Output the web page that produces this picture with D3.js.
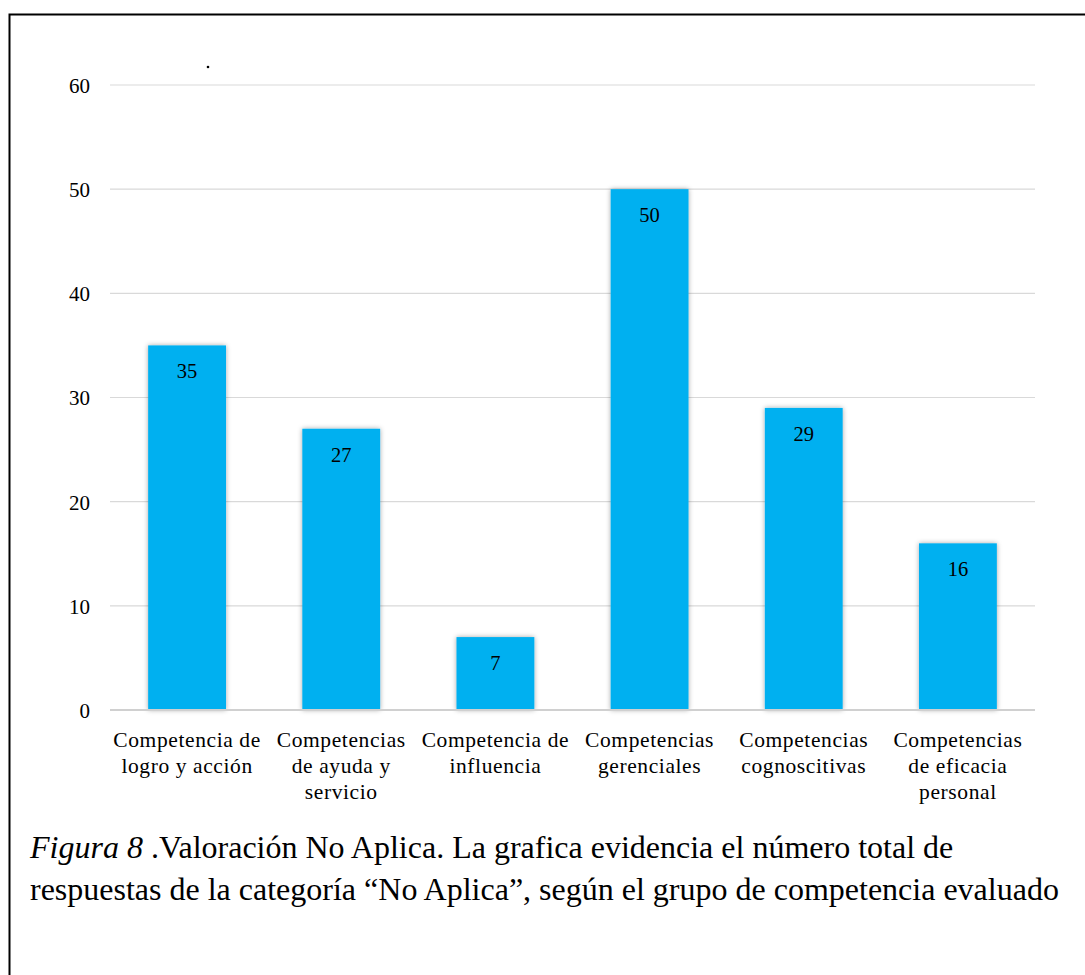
<!DOCTYPE html>
<html>
<head>
<meta charset="utf-8">
<script src="https://cdn.jsdelivr.net/npm/d3@7"></script>
<style>
  body { margin: 0; background: #fff; }
</style>
</head>
<body>
<div id="chart"></div>
<script>
const width = 1085;
const height = 975;
const margin = { top: 85, right: 50, bottom: 265, left: 110 };
const serif = "'Liberation Serif', 'Times New Roman', Times, serif";

// datos
const categories = [
  ["Competencia de", "logro y acción"],
  ["Competencias", "de ayuda y", "servicio"],
  ["Competencia de", "influencia"],
  ["Competencias", "gerenciales"],
  ["Competencias", "cognoscitivas"],
  ["Competencias", "de eficacia", "personal"]
];
const values = [35, 27, 7, 50, 29, 16];
const yTicks = [0, 10, 20, 30, 40, 50, 60];
const caption1 = "Valoración No Aplica. La grafica evidencia el número total de";
const caption2 = "respuestas de la categoría “No Aplica”, según el grupo de competencia evaluado";

const svg = d3.select("#chart")
  .append("svg")
  .attr("width", width)
  .attr("height", height);

// marco
svg.append("rect")
  .attr("x", 9.5).attr("y", 14.5)
  .attr("width", width + 20).attr("height", height + 20)
  .attr("fill", "none")
  .attr("stroke", "#000")
  .attr("stroke-width", 2);

const innerW = width - margin.left - margin.right;
const innerH = 710 - margin.top;

const x = d3.scaleBand()
  .domain(d3.range(values.length))
  .range([0, innerW])
  .paddingInner(0.495)
  .paddingOuter(0.2475);

const y = d3.scaleLinear()
  .domain([0, 60])
  .range([innerH, 0]);

const g = svg.append("g")
  .attr("transform", "translate(" + margin.left + "," + margin.top + ")");

// sombra
const defs = svg.append("defs");
const f = defs.append("filter").attr("id", "sh")
  .attr("x", "-20%").attr("y", "-10%").attr("width", "140%").attr("height", "120%");
f.append("feDropShadow")
  .attr("dx", 0).attr("dy", 0).attr("stdDeviation", 2.5)
  .attr("flood-color", "#000").attr("flood-opacity", 0.35);

// lineas de la grilla
g.selectAll(".grid")
  .data(yTicks.filter(d => d > 0))
  .enter()
  .append("line")
  .attr("x1", 0).attr("x2", innerW)
  .attr("y1", d => y(d)).attr("y2", d => y(d))
  .attr("stroke", "#d9d9d9")
  .attr("stroke-width", 1.2);

// eje Y
const yAxis = g.append("g")
  .call(d3.axisLeft(y).tickValues(yTicks).tickSize(0).tickPadding(20))
  .attr("font-family", serif)
  .attr("font-size", 21);
yAxis.select(".domain").remove();
yAxis.selectAll("text")
  .attr("fill", "#000")
  .attr("dy", "0.35em");

// barras
g.selectAll(".bar")
  .data(values)
  .enter()
  .append("rect")
  .attr("x", (d, i) => x(i))
  .attr("y", d => y(d))
  .attr("width", x.bandwidth())
  .attr("height", d => innerH - y(d))
  .attr("fill", "#00b0f0")
  .attr("filter", "url(#sh)");

// eje X base
g.append("line")
  .attr("x1", 0).attr("x2", innerW)
  .attr("y1", innerH).attr("y2", innerH)
  .attr("stroke", "#d0d0d0")
  .attr("stroke-width", 2);

// etiquetas de valor
g.selectAll(".val")
  .data(values)
  .enter()
  .append("text")
  .attr("x", (d, i) => x(i) + x.bandwidth() / 2)
  .attr("y", d => y(d) + 33)
  .attr("text-anchor", "middle")
  .attr("font-family", serif)
  .attr("font-size", 20.5)
  .attr("fill", "#000")
  .text(d => d);

// etiquetas de categoria
const cat = g.selectAll(".cat")
  .data(categories)
  .enter()
  .append("text")
  .attr("text-anchor", "middle")
  .attr("font-family", serif)
  .attr("font-size", 21.5)
  .attr("letter-spacing", 0.6)
  .attr("fill", "#000");
cat.each(function (lines, i) {
  d3.select(this).selectAll("tspan")
    .data(lines)
    .enter()
    .append("tspan")
    .attr("x", x(i) + x.bandwidth() / 2)
    .attr("y", (d, j) => innerH + 37 + j * 26)
    .text(d => d);
});

// punto suelto
svg.append("circle").attr("cx", 208).attr("cy", 67).attr("r", 1.3).attr("fill", "#000");

// pie de figura
const cap = svg.append("text")
  .attr("x", 30).attr("y", 858)
  .attr("font-family", serif)
  .attr("font-size", 32)
  .attr("fill", "#000");
cap.append("tspan").attr("font-style", "italic").text("Figura 8");
cap.append("tspan").text(" ." + caption1);

svg.append("text")
  .attr("x", 30).attr("y", 900)
  .attr("font-family", serif)
  .attr("font-size", 32)
  .attr("fill", "#000")
  .text(caption2);
</script>
</body>
</html>
